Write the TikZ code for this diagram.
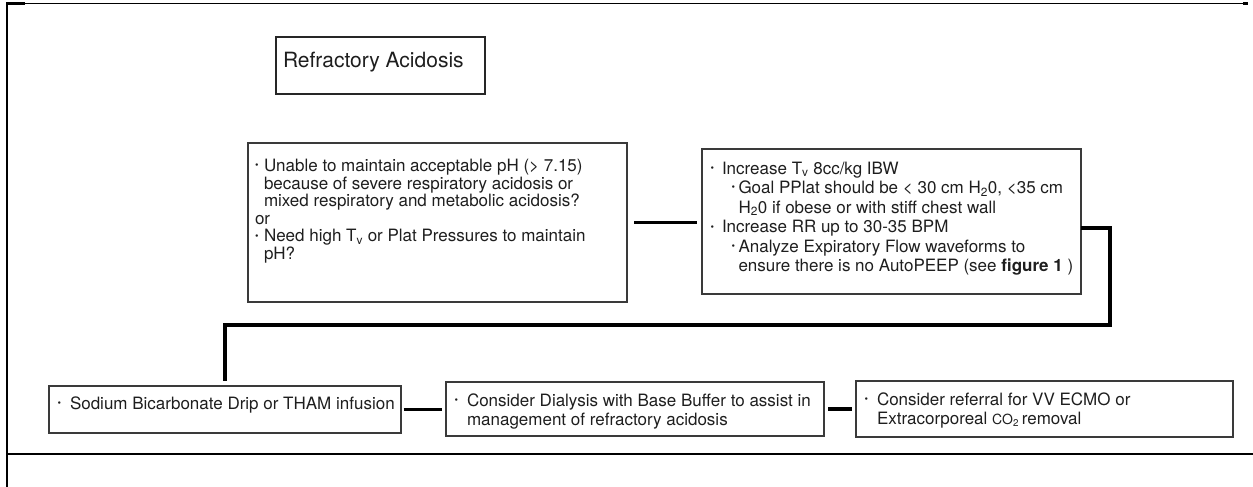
\documentclass[tikz,border=0pt]{standalone}
\usepackage{fontspec}
\setmainfont{TeX Gyre Heros}
\definecolor{boxline}{HTML}{3A3A3A}
\definecolor{txt}{HTML}{1E1E1E}
\newcommand{\sbul}{\raisebox{0.3ex}{\fontsize{10pt}{10pt}\selectfont\textbullet}}
\newcommand{\bln}[3]{\noindent\hspace*{#1}\makebox[\dimexpr#2-#1\relax][l]{\sbul}#3\par}
\newcommand{\tln}[2]{\noindent\hspace*{#1}#2\par}
\newcommand{\mysub}[1]{\textsubscript{#1}}
\newcommand{\firstl}{\rule{0pt}{13pt}}
\newcommand{\fontA}{\fontsize{17pt}{17.6pt}\selectfont}
\newcommand{\fontB}{\fontsize{17pt}{19.6pt}\selectfont}
\newcommand{\fontC}{\fontsize{17pt}{19pt}\selectfont}
\newcommand{\fontT}{\fontsize{21pt}{24pt}\selectfont}
\begin{document}
\begin{tikzpicture}[x=1pt,y=-1pt,
  every node/.style={inner sep=0pt, outer sep=0pt, anchor=north west, text=txt},
  flowbox/.style={draw=boxline, line width=1.3pt},
  titlebox/.style={draw=black!85, line width=2.8pt},
  conn/.style={line width=3.4pt, draw=black}
]
\useasboundingbox (0,0) rectangle (1253,487);

% frame
\draw[line width=2pt] (7,2.5) -- (7,487);
\draw[line width=1.1pt] (7,3.5) -- (1248,3.5);
\draw[line width=2.8pt] (6,3.5) -- (25,3.5);
\draw[line width=2.4pt] (1243,3.5) -- (1248,3.5);
\draw[line width=2.8pt] (6,454) -- (1253,454);

% title
\node[titlebox, font=\fontT] (title) at (276,37)
  {\parbox[t][57pt][t]{209pt}{\fontT\vspace*{15pt}\hspace*{7pt}\rule{0pt}{15pt}Refractory Acidosis}};

% box A
\node[flowbox, font=\fontA] (A) at (248,143) {\parbox[t][159pt][t]{379pt}{\fontA\vspace*{15.5pt}%
\bln{7pt}{16pt}{\firstl Unable to maintain acceptable pH (> 7.15)}%
\tln{16pt}{because of severe respiratory acidosis or}%
\tln{16pt}{mixed respiratory and metabolic acidosis?}%
\tln{7pt}{or}%
\bln{7pt}{16pt}{Need high T\mysub{v} or Plat Pressures to maintain}%
\tln{16pt}{pH?}}};

% box B
\node[flowbox, font=\fontB] (B) at (702,149) {\parbox[t][145pt][t]{379pt}{\fontB\vspace*{12pt}%
\bln{8.5pt}{20pt}{\firstl Increase T\mysub{v} 8cc/kg IBW}%
\bln{29.5pt}{36.5pt}{Goal PPlat should be < 30 cm H\mysub{2}0, <35 cm}%
\tln{36.5pt}{H\mysub{2}0 if obese or with stiff chest wall}%
\bln{8.5pt}{20pt}{Increase RR up to 30-35 BPM}%
\bln{29.5pt}{36.5pt}{Analyze Expiratory Flow waveforms to}%
\tln{36.5pt}{ensure there is no AutoPEEP (see \textbf{figure 1} )}}};

% bottom row
\node[flowbox, font=\fontC] (C) at (49,386) {\parbox[t][47pt][t]{352pt}{\fontC\vspace*{10pt}%
\bln{8.5pt}{21pt}{\firstl Sodium Bicarbonate Drip or THAM infusion}}};

\node[flowbox, font=\fontC] (D) at (446,382) {\parbox[t][54pt][t]{378pt}{\fontC\vspace*{11pt}%
\bln{8.5pt}{21pt}{\firstl Consider Dialysis with Base Buffer to assist in}%
\tln{21pt}{management of refractory acidosis}}};

\node[flowbox, font=\fontC] (E) at (856,381) {\parbox[t][56pt][t]{377pt}{\fontC\vspace*{11pt}%
\bln{8.5pt}{21pt}{\firstl Consider referral for VV ECMO or}%
\tln{21pt}{Extracorporeal {\fontsize{14pt}{14pt}\selectfont CO\mysub{2}}\,removal}}};

% connectors
\coordinate (turn) at (1110,325);
\draw[conn] ([xshift=7pt]A.east) -- ([xshift=-5pt]A.east -| B.west);
\draw[conn] ([yshift=-6.5pt]B.east) -| (turn) -| ([yshift=5pt]C.north);
\draw[conn] ([xshift=2.5pt]C.east) -- ([xshift=-4pt]C.east -| D.west);
\draw[conn] ([xshift=4pt]D.east) -- ([xshift=-4pt]D.east -| E.west);
\end{tikzpicture}
\end{document}
